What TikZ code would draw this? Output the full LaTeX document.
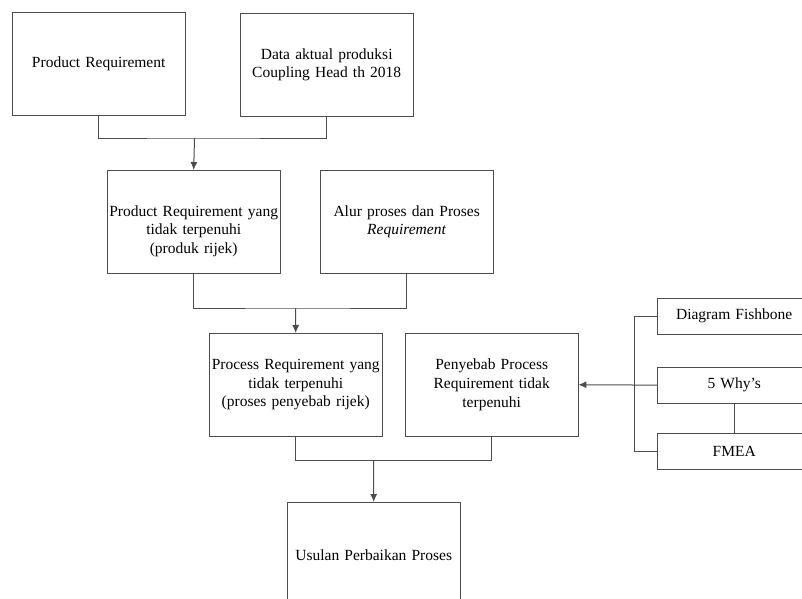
\documentclass[tikz,border=0pt]{standalone}
\usepackage{fontspec}
\setmainfont{Liberation Serif}
\usepackage{tikz}
\usetikzlibrary{arrows.meta}
\usetikzlibrary{calc}
\usetikzlibrary{positioning}

\begin{document}
\begin{tikzpicture}[x=1pt, y=-1pt]
  \pgfmathsetmacro{\BW}{173}
  \pgfmathsetmacro{\BH}{103}
\tikzset{
  box/.style={draw=black!70, rectangle, anchor=north west, align=center,
    inner sep=0pt, minimum width=\BW pt, minimum height=\BH pt,
    text width=170pt, font=\fontsize{15.5}{18.7}\selectfont},
  tool/.style={box, minimum width=154pt, minimum height=36pt, text width=150pt},
  link/.style={draw=black!70, line width=1pt},
}
%
\tikzset{>={Latex[length=8pt, width=7pt]}}

       \useasboundingbox (0,0) rectangle (802,598);
       \clip (0,0) rectangle (802,598);

       \node [box] (prodreq) at (12, 12) {Product Requirement};
       \node [box] (datakt) at (240, 13) {Data aktual produksi\\Coupling Head th 2018};

       \node [box] (prodrej) at (107, 170) {\raisebox{-9.5pt}[\height][\depth]{\parbox{170pt}{\centering
         Product Requirement yang\\tidak terpenuhi\\(produk rijek)}}};
       \node [box] (alur) at (320, 170) {Alur proses dan Proses\\\textit{Requirement}};

       \node [box] (procrej) at (209, 333) {Process Requirement yang\\tidak terpenuhi\\(proses penyebab rijek)};
       \node [box] (penyebab) at (405, 333) {Penyebab Process\\Requirement tidak\\terpenuhi};

       \node [box, minimum height=105pt] (usulan) at (287, 502) {Usulan Perbaikan Proses};

       \node [tool] (fishbone) at (657, 298) {Diagram Fishbone};
       \node [tool] (whys) at (657, 367) {5 Why’s};
       \node [tool] (fmea) at (657, 433) {FMEA};

       \coordinate (j1) at (194.5, 138);
       \coordinate (j2) at (295.5, 308);
       \coordinate (j3) at (373.5, 460);
       \coordinate (jr) at (634, 385);

       \draw[link] (prodreq.south) |- (j1) -| (datakt.south);
       \draw[link, ->] (j1) -- (prodrej.north);

       \draw[link] (prodrej.south) |- (j2) -| (alur.south);
       \draw[link, ->] (j2) -- (procrej.north);

       \draw[link] (procrej.south) |- (j3) -| (penyebab.south);
       \draw[link, ->] (j3) -- (usulan.north);

       \draw[link] (fishbone.west) -| (jr) |- (fmea.west);
       \draw[link] (whys.west) -- (jr);
       \draw[link, ->] (jr) -- (penyebab.east);
       \draw[link] (whys.south) -- (fmea.north);

\end{tikzpicture}
\end{document}
